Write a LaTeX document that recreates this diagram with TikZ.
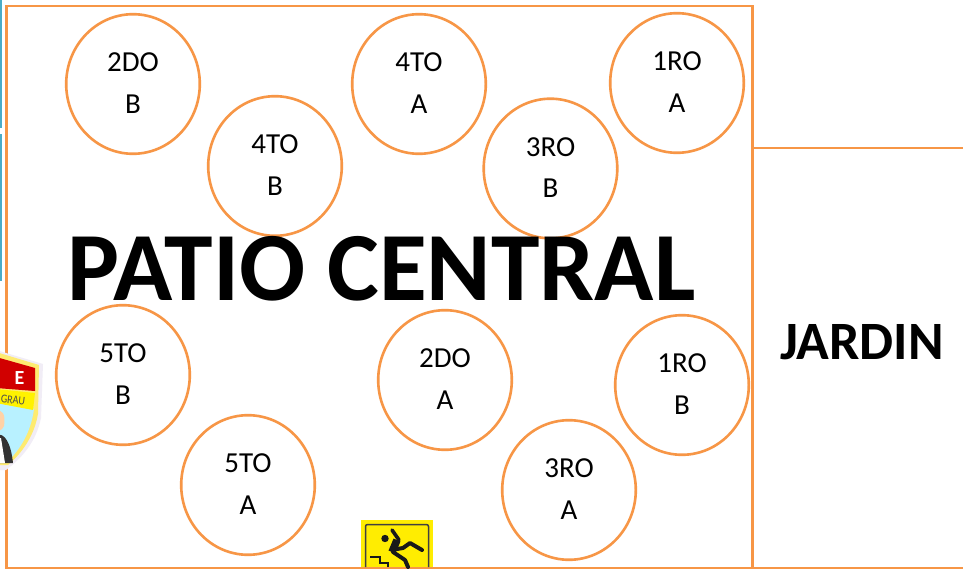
\documentclass[tikz,border=0pt]{standalone}
\usepackage{fontspec}
\setmainfont{Carlito}
\definecolor{orng}{HTML}{F79646}
\definecolor{teal1}{HTML}{4BACC6}
\tikzset{
  x=1pt,y=-1pt,
  wall/.style={draw=orng,line width=2.6pt},
  bigt/.style={font=\bfseries\fontsize{97.8}{98}\selectfont,inner sep=0pt,anchor=center},
  jard/.style={font=\bfseries\fontsize{54}{54}\selectfont,inner sep=0pt,anchor=center}
}
\newcommand{\patioring}[4]{%
  \draw[orng,line width=2.6pt] (#2,#3) ellipse [x radius=66.8,y radius=69.8];
  \node[inner sep=0pt,align=center,font=\fontsize{29}{41.5}\selectfont] (#1) at (#2,#3-1) {#4};
}
\begin{document}
\begin{tikzpicture}
\useasboundingbox (0,0) rectangle (963,569);
\fill[white] (0,0) rectangle (963,569);
% teal strips at left edge
\fill[teal1] (0,0) rectangle (1.5,128);
\fill[teal1] (0,134) rectangle (1.5,281);
% walls
\draw[wall] (6.5,568) -- (6.5,6) -- (752.5,6) -- (752.5,568) -- cycle;
\draw[wall] (752.5,148) -- (963,148);
\draw[wall] (752.5,568) -- (963,568);
% crest
\begin{scope}
\clip (0,0) rectangle (963,569);
\fill[yellow!12!blue!6!white] (-4,350) -- (43,364) -- (41,418) .. controls (36,442) and (22,458) .. (6,470) -- (-4,470) -- cycle;
\fill[yellow!80!orange!55!white] (-4,352) -- (39,365) -- (38,414) .. controls (34,437) and (21,454) .. (8,465) -- (-4,465) -- cycle;
\fill[blue!20!cyan!28!white] (-4,403) -- (34,409) .. controls (31,432) and (20,450) .. (7,462) -- (-4,462) -- cycle;
\fill[red!82!black] (-4,357) -- (35,368) -- (35,391) -- (-4,388) -- cycle;
\fill[yellow] (-4,389) -- (35,393) -- (33,410) -- (-4,403) -- cycle;
\node[inner sep=0pt,text=white,font=\bfseries\fontsize{20}{20}\selectfont] (crestE) at (19.5,378) {E};
\node[inner sep=0pt,text=black!70,font=\fontsize{12}{12}\selectfont,rotate=-6,xscale=.85] (crestG) at (13,400) {GRAU};
\fill[black!80] (-4,435) .. controls (5,432) and (11,444) .. (13,463) -- (-4,463) -- cycle;
\fill[orange!35!white] (-4,411) .. controls (2,409) and (6,414) .. (4,426) .. controls (2,431) and (-2,431) .. (-4,431) -- cycle;
\fill[white] (-4,438) -- (1,438) -- (5,463) -- (-4,463) -- cycle;
\end{scope}
% circles
\patioring{c2b}{133}{84}{2DO\\B}
\patioring{c4a}{419}{84}{4TO\\A}
\patioring{c1a}{677}{83}{1RO\\A}
\patioring{c4b}{275}{166}{4TO\\B}
\patioring{c3b}{550.5}{168.5}{3RO\\B}
\patioring{c5b}{123}{375}{5TO\\B}
\patioring{c2a}{445}{380}{2DO\\A}
\patioring{c1b}{682}{385}{1RO\\B}
\patioring{c5a}{248}{485}{5TO\\A}
\patioring{c3a}{569}{490}{3RO\\A}
% titles
\node[bigt] (title) at (381.5,268.5) {PATIO CENTRAL};
\node[jard] (jardin) at (862,342.5) {JARDIN};
% warning sign
\fill[yellow!95!orange] (361,520) rectangle (433,567);
\draw[black!75,line width=1.5pt,rounded corners=2pt] (365.5,567) -- (365.5,524.5) -- (428.5,524.5) -- (428.5,567);
\fill[black!90] (385,538.5) circle (3.7);
\draw[black!90,line width=3.6pt,line cap=round] (392,530) -- (399,540);
\draw[black!90,line width=7.5pt] (397,540) -- (392,552);
\draw[black!90,line width=4pt,line cap=round,line join=round] (393,552) -- (405,560) -- (408,567);
\draw[black!90,line width=4pt,line cap=round,line join=round] (397,549) -- (403,548) -- (410,543) -- (422,550);
\draw[black!90,line width=2.2pt] (370,557) -- (380,557) -- (380,563) -- (388,563) -- (388,567);
\end{tikzpicture}
\end{document}
